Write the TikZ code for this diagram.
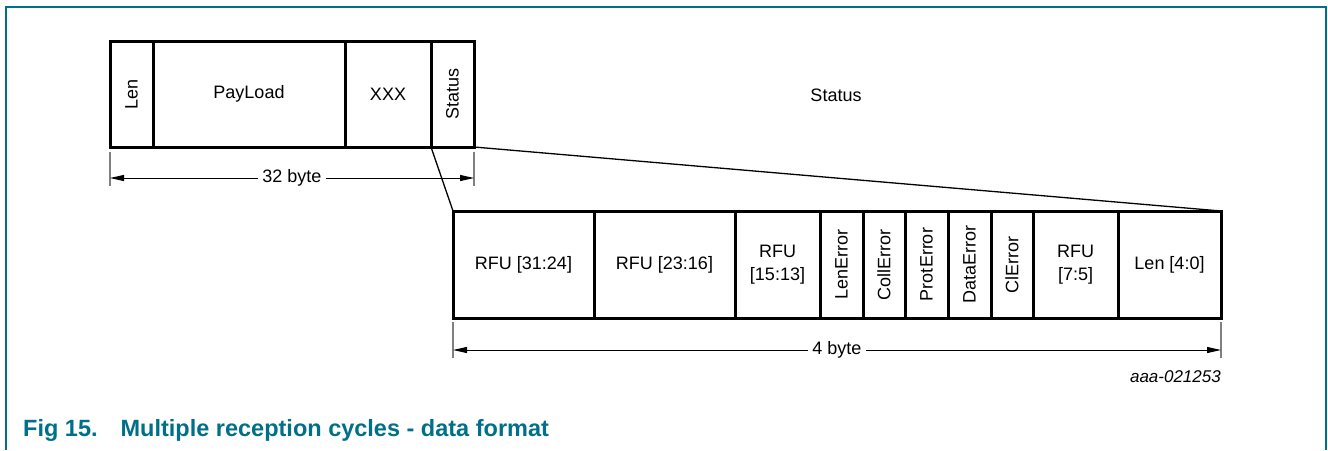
\documentclass[tikz,border=0pt]{standalone}
\usepackage{fontspec}
\setmainfont{Liberation Sans}
\usetikzlibrary{arrows.meta}
\definecolor{nxpteal}{RGB}{0,112,138}
\tikzset{
  cell/.style={draw, line width=3pt, inner sep=0pt, outer sep=0pt, font=\fontsize{18}{23}\selectfont, align=center},
  topcell/.style={cell, minimum height=106pt},
  botcell/.style={cell, minimum height=107pt},
  rot/.style={rotate=90},
  zoomline/.style={line width=1.3pt},
  extline/.style={draw=gray, line width=1.2pt},
  dimline/.style={line width=1pt, {Triangle[length=14pt,width=6pt]}-{Triangle[length=14pt,width=6pt]}},
  dimlabel/.style={fill=white, inner sep=4pt, font=\fontsize{18}{22}\selectfont},
  frameline/.style={draw=nxpteal, line width=2pt},
}
\begin{document}
\begin{tikzpicture}[x=1pt,y=-1pt]
\useasboundingbox (0,0) rectangle (1328,450);
% frame
\draw[frameline] (5.5,450) -- (5.5,7) -- (1326,7) -- (1326,450);
% top packet
\node[topcell, minimum width=43pt]  (len) at (131.5,94) {};
\node[rot, font=\fontsize{18}{22}\selectfont] (lent) at (len.center) {Len};
\node[topcell, minimum width=192pt] (pay) at (249,94) {PayLoad};
\node[topcell, minimum width=86pt]  (xxx) at (388,94) {XXX};
\node[topcell, minimum width=43pt]  (st) at (452.5,94) {};
\node[rot, font=\fontsize{18}{22}\selectfont] (stt) at (st.center) {Status};
\node[font=\fontsize{18}{22}\selectfont] (stlabel) at (836,95) {Status};
% bottom packet
\node[botcell, minimum width=141pt] (b1) at (523.5,264.5) {RFU [31:24]};
\node[botcell, minimum width=141pt] (b2) at (664.5,264.5) {RFU [23:16]};
\node[botcell, minimum width=85pt]  (b3) at (777.5,264.5) {RFU\\{[15:13]}};
\node[botcell, minimum width=43pt]  (b4) at (841.5,264.5) {};
\node[botcell, minimum width=42pt]  (b5) at (884,264.5) {};
\node[botcell, minimum width=43pt]  (b6) at (926.5,264.5) {};
\node[botcell, minimum width=43pt]  (b7) at (969.5,264.5) {};
\node[botcell, minimum width=42pt]  (b8) at (1012,264.5) {};
\node[botcell, minimum width=85pt]  (b9) at (1075.5,264.5) {RFU\\{[7:5]}};
\node[botcell, minimum width=103pt] (b10) at (1169.5,264.5) {Len [4:0]};
\foreach \n/\t in {b4/LenError,b5/CollError,b6/ProtError,b7/DataError,b8/ClError}
  \node[rot, font=\fontsize{18}{22}\selectfont] (\n t) at (\n.center) {\t};
% zoom lines
\draw[zoomline] (st.south west) -- (b1.north west);
\draw[zoomline] (st.south east) -- (b10.north east);
% top dimension
\coordinate (tl1) at ([yshift=-5pt]len.south west);
\coordinate (tl2) at ([yshift=-39pt]len.south west);
\coordinate (tr1) at ([yshift=-5pt]st.south east);
\coordinate (tr2) at ([yshift=-39pt]st.south east);
\draw[extline] (tl1) -- (tl2);
\draw[extline] (tr1) -- (tr2);
\coordinate (ta) at ([yshift=-31pt]len.south west);
\coordinate (tb) at ([yshift=-31pt]st.south east);
\draw[dimline] (ta) -- node[dimlabel] (tlab) {32 byte} (tb);
% bottom dimension
\coordinate (bl1) at ([yshift=-4pt]b1.south west);
\coordinate (bl2) at ([yshift=-40pt]b1.south west);
\coordinate (br1) at ([yshift=-4pt]b10.south east);
\coordinate (br2) at ([yshift=-40pt]b10.south east);
\draw[extline] (bl1) -- (bl2);
\draw[extline] (br1) -- (br2);
\coordinate (ba) at ([yshift=-32pt]b1.south west);
\coordinate (bb) at ([yshift=-32pt]b10.south east);
\draw[dimline] (ba) -- node[dimlabel] (blab) {4 byte} (bb);
% id
\node[anchor=east, inner sep=0pt, font=\fontsize{17}{20}\selectfont\itshape] (id) at (1221,377) {aaa-021253};
% caption
\node[anchor=base west, inner sep=0pt, text=nxpteal, font=\fontsize{23.5}{28}\selectfont\bfseries] (cap) at (23,436) {Fig 15.\hspace{23pt}Multiple reception cycles - data format};
\end{tikzpicture}
\end{document}
